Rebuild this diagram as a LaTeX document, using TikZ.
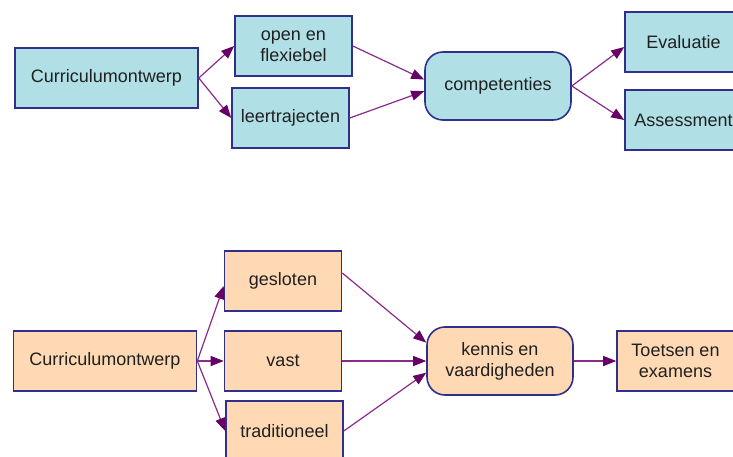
\documentclass[tikz,border=0pt]{standalone}
\usepackage{fontspec}
\setmainfont{Liberation Sans}
\usetikzlibrary{arrows.meta}
\definecolor{boxline}{HTML}{30308C}
\definecolor{cyanfill}{HTML}{B0E0E6}
\definecolor{peachfill}{HTML}{FFD9B3}
\definecolor{linkline}{HTML}{8A2A8A}
\definecolor{linkhead}{HTML}{660066}
\definecolor{labeltext}{HTML}{202020}
\tikzset{
  box/.style={draw=boxline, line width=1.6pt, inner sep=0pt, align=center,
    text=labeltext, font=\fontsize{18}{21}\selectfont},
  wide/.style={box, minimum width=183pt, minimum height=60pt},
  small/.style={box, minimum width=117pt, minimum height=60pt},
  hub/.style={box, rounded corners=18pt, minimum width=146pt, minimum height=68pt},
  top/.style={fill=cyanfill},
  bottom/.style={fill=peachfill},
  link/.style={draw=linkline, line width=1.2pt,
    -{Triangle[length=13pt,width=10pt,fill=linkhead,color=linkhead]}},
}
\begin{document}
\begin{tikzpicture}[x=1pt,y=-1pt]
\clip (0,0) rectangle (733,457);
\fill[white] (0,0) rectangle (733,457);

% upper chain
\node[wide,top]  (cur1)  at (106.5,78)  {Curriculumontwerp};
\node[small,top] (open)  at (293.5,46)  {open en\\flexiebel};
\node[small,top] (leer)  at (290.5,118) {leertrajecten};
\node[hub,top]   (comp)  at (498,86)    {competenties};
\node[small,top] (eval)  at (683.5,42)  {Evaluatie};
\node[small,top] (asse)  at (683.5,120) {Assessment};

\draw[link] (cur1.east) -- (open.west);
\draw[link] (cur1.east) -- (leer.west);
\draw[link] (open.east) -- (comp.175);
\draw[link] (leer.east) -- (comp.184);
\draw[link] (comp.east) -- ([yshift=-5pt]eval.west);
\draw[link] (comp.east) -- (asse.west);

% lower chain
\node[wide,bottom]  (cur2)  at (105,361)   {Curriculumontwerp};
\node[small,bottom] (geslo) at (283,281)   {gesloten};
\node[small,bottom] (vast)  at (283,361)   {vast};
\node[small,bottom] (trad)  at (284.5,431) {traditioneel};
\node[hub,bottom]   (kenn)  at (500,361)   {kennis en\\vaardigheden};
\node[small,bottom] (toets) at (675.5,361) {Toetsen en\\examens};

\draw[link] (cur2.east) -- ([yshift=-5pt]geslo.west);
\draw[link] (cur2.east) -- (vast.west);
\draw[link] (cur2.east) -- (trad.west);
\draw[link] ([yshift=8pt]geslo.east) -- (kenn.166);
\draw[link] (vast.east) -- (kenn.west);
\draw[link] (trad.east) -- (kenn.189);
\draw[link] (kenn.east) -- (toets.west);
\end{tikzpicture}
\end{document}
